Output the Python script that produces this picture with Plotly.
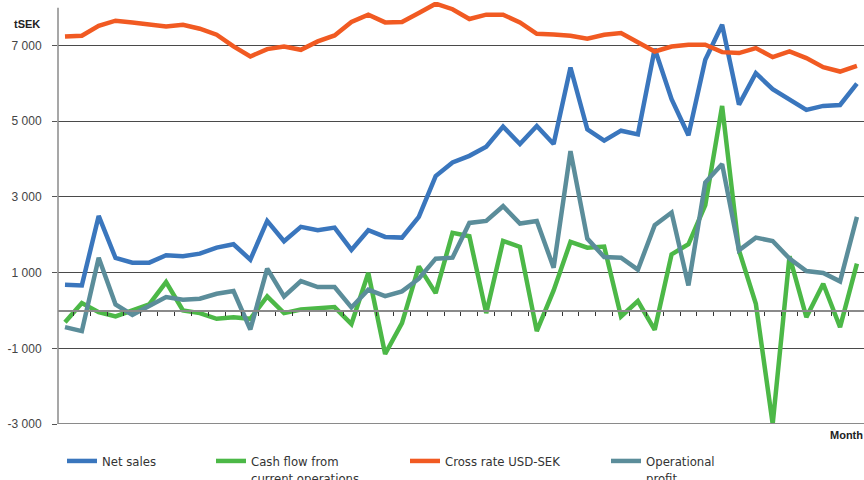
import plotly.graph_objects as go

months = list(range(1, 49))

net_sales = [680, 662, 2498, 1386, 1263, 1263, 1457, 1430, 1501, 1660, 1748, 1342,
             2366, 1828, 2208, 2119, 2190, 1600, 2119, 1943, 1925, 2472, 3550, 3912,
             4085, 4326, 4856, 4397, 4874, 4397, 6419, 4786, 4485, 4750, 4653, 6914,
             5581, 4630, 6623, 7550, 5440, 6270, 5846, 5563, 5298, 5404, 5430, 5995]

cash_flow = [-310, 194, -44, -159, 0, 159, 750, 0, -71, -221, -177, -221,
             371, -71, 26, 44, 88, -360, 989, -1150, -336, 1166, 459, 2049,
             1960, -71, 1836, 1678, -547, 530, 1810, 1660, 1690, -160, 247, -512,
             1483, 1748, 2781, 5404, 1589, 177, -3000, 1430, -177, 706, -442, 1236]

cross_rate = [7240, 7260, 7523, 7656, 7611, 7550, 7505, 7550, 7444, 7285, 6975, 6710,
              6905, 6975, 6887, 7108, 7267, 7620, 7815, 7611, 7620, 7860, 8106, 7960,
              7700, 7815, 7815, 7611, 7311, 7294, 7258, 7179, 7285, 7329, 7090, 6843,
              6975, 7020, 7020, 6825, 6800, 6932, 6693, 6843, 6667, 6428, 6313, 6464]

op_profit = [-441, -547, 1395, 159, -115, 106, 353, 283, 309, 442, 512, -503,
             1104, 371, 777, 618, 618, 80, 547, 380, 503, 839, 1369, 1395,
             2313, 2366, 2755, 2296, 2366, 1130, 4210, 1898, 1413, 1395, 1077, 2252,
             2587, 662, 3382, 3868, 1589, 1925, 1836, 1369, 1042, 989, 768, 2472]

y_tickvals = [-3000, -1000, 1000, 3000, 5000, 7000]
y_ticktext = ["-3 000", "-1 000", "1 000", "3 000", "5 000", "7 000"]

series_names = ["Net sales", "Cash flow from<br>current operations",
                "Cross rate USD-SEK", "Operational<br>profit"]
series_colors = ["#3a76bd", "#4cb847", "#f15a22", "#5b8d9a"]

W, H = 864, 480
ML, MR, MT, MB = 58, 0, 2, 56

fig = go.Figure()
all_series = [net_sales, cash_flow, cross_rate, op_profit]
legend_ids = ["legend", "legend2", "legend3", "legend4"]
for vals, name, col, lg in zip(all_series, series_names, series_colors, legend_ids):
    fig.add_trace(go.Scatter(
        x=months, y=vals, mode="lines", name=name,
        line=dict(color=col, width=4.5),
        legend=lg, hoverinfo="skip",
    ))

legend_font = dict(family="Liberation Sans Narrow, DejaVu Sans Condensed, Arial Narrow, sans-serif",
                   size=13, color="#333333")
legend_x_px = [62, 211, 405, 606]
legend_top_px = 446
legends = {}
for lg, xp in zip(legend_ids, legend_x_px):
    legends[lg] = dict(
        x=xp / W, y=1 - legend_top_px / H, xref="container", yref="container",
        xanchor="left", yanchor="top", orientation="h",
        font=legend_font, bgcolor="rgba(0,0,0,0)", borderwidth=0,
        valign="top", tracegroupgap=0,
    )

fig.update_layout(
    width=W, height=H,
    margin=dict(l=ML, r=MR, t=MT, b=MB, autoexpand=False),
    paper_bgcolor="white", plot_bgcolor="white",
    showlegend=True,
    **legends,
    xaxis=dict(
        range=[0.585, 48.42],
        anchor="free", position=3000 / 11150,
        showline=True, linecolor="#8a8a8a", linewidth=1.5,
        ticks="outside", ticklen=4, tickwidth=1, tickcolor="#333333",
        tickvals=[m + 0.5 for m in months[:-1]],
        showticklabels=False, showgrid=False, zeroline=False,
        automargin=False,
    ),
    yaxis=dict(
        range=[-3000, 8150],
        showline=False,
        tickvals=y_tickvals, ticktext=y_ticktext,
        ticks="outside", ticklen=5, tickwidth=1, tickcolor="#555555",
        ticklabelstandoff=8,
        tickfont=dict(family="Liberation Sans, Arial, sans-serif", size=12, color="#444444"),
        showgrid=True, gridcolor="#4a4a4a", gridwidth=1,
        zeroline=False, automargin=False,
    ),
    shapes=[
        dict(type="line", xref="paper", yref="y", x0=0, x1=0, y0=-3000, y1=8000,
             line=dict(color="#8a8a8a", width=1.5), layer="above"),
        dict(type="line", xref="paper", yref="y", x0=0, x1=1, y0=-3000, y1=-3000,
             line=dict(color="#8a8a8a", width=2), layer="above"),
    ],
    annotations=[
        dict(text="<b>tSEK</b>", xref="paper", yref="paper", x=(12 - ML) / (W - ML - MR),
             y=1 - (24 - MT) / (H - MT - MB), xanchor="left", yanchor="middle",
             showarrow=False, font=dict(family="Liberation Sans, Arial, sans-serif", size=11, color="#222222")),
        dict(text="<b>Month</b>", xref="paper", yref="paper", x=(828 - ML) / (W - ML - MR),
             y=1 - (435 - MT) / (H - MT - MB), xanchor="left", yanchor="middle",
             showarrow=False, font=dict(family="Liberation Sans, Arial, sans-serif", size=11, color="#222222")),
    ],
)

fig.write_html(
    "out.html",
    config={"displayModeBar": False, "staticPlot": True},
    post_script="document.body.style.margin='0';document.body.style.overflow='hidden';",
)
